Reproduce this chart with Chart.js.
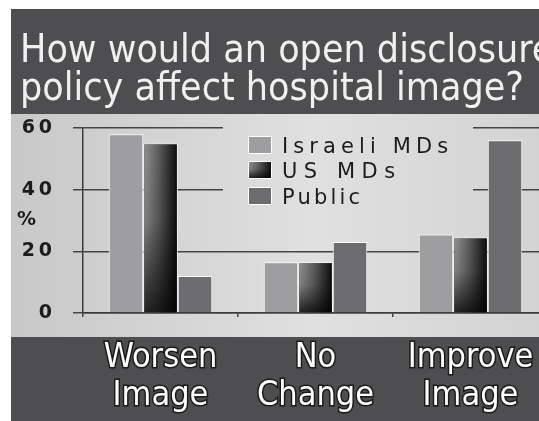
<!DOCTYPE html>
<html lang="en">
<head>
  <meta charset="UTF-8">
  <title>Open disclosure and hospital image</title>
  <script src="https://cdn.jsdelivr.net/npm/chart.js"></script>
  <style>
    html, body { margin: 0; padding: 0; background: #fff; overflow: hidden; }
    #wrap { width: 560px; height: 421px; }
  </style>
</head>
<body>
  <div id="wrap"><canvas id="chart" width="560" height="421"></canvas></div>

  <script>
    // data
    const categories = [['Worsen', 'Image'], ['No', 'Change'], ['Improve', 'Image']];
    const seriesNames = ['Israeli MDs', 'US MDs', 'Public'];
    const israeliMDs = [58, 16.5, 25.5];
    const usMDs = [55, 16.5, 24.5];
    const publicVals = [12, 23, 56];
    const yTicks = [0, 20, 40, 60];
    const titleLines = ['How would an open disclosure', 'policy affect hospital image?'];
    const yUnit = '%';

    const DARK = '#4e4e50';
    const titleFont = '"DejaVu Sans Condensed", "DejaVu Sans", sans-serif';

    function plotGradient(ctx) {
      const g = ctx.createLinearGradient(11, 0, 560, 0);
      g.addColorStop(0, '#c8c8c8');
      g.addColorStop(0.55, '#e0e0e0');
      g.addColorStop(1, '#d2d2d2');
      return g;
    }

    function usGradient(ctx, left, top, w, h) {
      const g = ctx.createLinearGradient(left, 0, left + w, 0);
      g.addColorStop(0, '#909090');
      g.addColorStop(0.45, '#5c5c5c');
      g.addColorStop(1, '#0e0e0e');
      ctx.fillStyle = g;
      ctx.fillRect(left, top, w, h);
      const v = ctx.createLinearGradient(0, top, 0, top + h);
      v.addColorStop(0, 'rgba(0,0,0,0)');
      v.addColorStop(0.45, 'rgba(0,0,0,0.1)');
      v.addColorStop(1, 'rgba(0,0,0,0.75)');
      ctx.fillStyle = v;
      ctx.fillRect(left, top, w, h);
    }

    const decor = {
      id: 'decor',
      beforeDraw(chart) {
        const ctx = chart.ctx;
        ctx.save();
        ctx.fillStyle = '#fff';
        ctx.fillRect(0, 0, chart.width, chart.height);
        ctx.fillStyle = DARK;
        ctx.fillRect(11, 9, chart.width, chart.height);
        ctx.fillStyle = plotGradient(ctx);
        ctx.fillRect(11, 114, chart.width, 223);
        ctx.restore();
      },
      beforeDatasetsDraw(chart) {
        // legend background hides the grid lines behind it
        const ctx = chart.ctx;
        ctx.save();
        ctx.fillStyle = plotGradient(ctx);
        ctx.fillRect(223, 118, 250, 97);
        ctx.restore();
      },
      afterDatasetsDraw(chart) {
        const ctx = chart.ctx;
        ctx.save();
        // gradient fill of the US MDs bars
        chart.getDatasetMeta(1).data.forEach(el => {
          const p = el.getProps(['x', 'y', 'base', 'width'], true);
          const left = p.x - p.width / 2 + 1;
          usGradient(ctx, left, p.y + 1, p.width - 2, p.base - p.y - 1);
        });

        // legend
        const rowY = [137, 162, 188];
        ctx.font = '21px "DejaVu Sans", sans-serif';
        ctx.textBaseline = 'alphabetic';
        chart.data.datasets.forEach((ds, i) => {
          const y = rowY[i];
          ctx.fillStyle = '#fff';
          ctx.fillRect(248, y - 1, 24, 18);
          if (i === 1) {
            usGradient(ctx, 249, y, 22, 16);
          } else {
            ctx.fillStyle = ds.backgroundColor;
            ctx.fillRect(249, y, 22, 16);
          }
          ctx.letterSpacing = '0px';
          const txt = ds.label;
          const natural = ctx.measureText(txt).width;
          const target = [166, 113, 78][i];
          const sp = Math.max(0, (target - natural) / (txt.length - 1));
          ctx.letterSpacing = sp.toFixed(1) + 'px';
          ctx.fillStyle = '#1c1c1c';
          ctx.fillText(txt, 282, y + 16);
        });
        ctx.letterSpacing = '0px';

        // unit label
        ctx.font = 'bold 19px "DejaVu Sans", sans-serif';
        ctx.fillStyle = '#1c1c1c';
        ctx.textBaseline = 'middle';
        ctx.fillText(yUnit, 17, 220);

        // title
        ctx.font = '39px ' + titleFont;
        ctx.fillStyle = '#f0f0f0';
        ctx.textBaseline = 'alphabetic';
        ctx.fillText(titleLines[0], 20, 62);
        ctx.fillText(titleLines[1], 20, 100);
        ctx.restore();
      }
    };

    new Chart(document.getElementById('chart'), {
      type: 'bar',
      data: {
        labels: categories,
        datasets: [
          { label: seriesNames[0], data: israeliMDs, backgroundColor: '#9e9ea0' },
          { label: seriesNames[1], data: usMDs, backgroundColor: '#3a3a3a' },
          { label: seriesNames[2], data: publicVals, backgroundColor: '#6d6d70' }
        ]
      },
      options: {
        responsive: false,
        animation: false,
        layout: { padding: { top: 128, right: 12, bottom: 0, left: 0 } },
        datasets: {
          bar: {
            categoryPercentage: 0.668,
            barPercentage: 1.0,
            borderColor: '#ffffff',
            borderWidth: 1
          }
        },
        plugins: {
          legend: { display: false },
          tooltip: { enabled: false }
        },
        scales: {
          x: {
            afterFit(scale) { scale.height = 108; },
            grid: { drawOnChartArea: false, drawTicks: true, tickLength: 4, color: '#444', lineWidth: 1.5 },
            border: { display: true, color: '#3a3a3a', width: 1.5 },
            ticks: {
              color: '#ffffff',
              font: { family: titleFont, size: 34, lineHeight: 1.12 },
              textStrokeColor: '#1a1a1a',
              textStrokeWidth: 3,
              padding: 22,
              maxRotation: 0,
              autoSkip: false
            }
          },
          y: {
            min: yTicks[0],
            max: yTicks[yTicks.length - 1],
            afterFit(scale) { scale.width = 83; },
            afterBuildTicks(scale) { scale.ticks = yTicks.map(v => ({ value: v })); },
            grid: { color: '#444', lineWidth: 1.5, tickLength: 10 },
            border: { display: true, color: '#3a3a3a', width: 1.5 },
            ticks: {
              color: '#1c1c1c',
              padding: 21,
              font: { family: '"DejaVu Sans", sans-serif', size: 19, weight: 'bold' },
              callback: v => String(v).split('').join('\u2009')
            }
          }
        }
      },
      plugins: [decor]
    });
  </script>
</body>
</html>
